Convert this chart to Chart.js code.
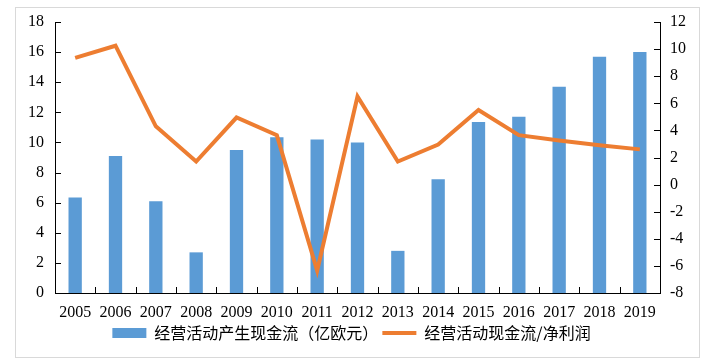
<!DOCTYPE html>
<html lang="zh">
<head>
  <meta charset="UTF-8">
  <title>经营活动现金流</title>
  <style>
    body { margin: 0; background: #fff; }
    canvas { display: block; }
  </style>
</head>
<body>
  <canvas id="grafico" width="703" height="362"></canvas>

  <script src="https://cdn.jsdelivr.net/npm/chart.js"></script>
  <script>
    // dados
    const anos = ['2005', '2006', '2007', '2008', '2009', '2010', '2011', '2012', '2013', '2014', '2015', '2016', '2017', '2018', '2019'];
    const fluxoCaixa = [6.35, 9.1, 6.1, 2.7, 9.5, 10.35, 10.2, 10.0, 2.8, 7.55, 11.35, 11.7, 13.7, 15.7, 16.0];
    const fluxoSobreLucro = [9.35, 10.25, 4.3, 1.7, 4.95, 3.65, -6.35, 6.5, 1.7, 2.95, 5.5, 3.65, 3.25, 2.9, 2.6];
    const nomeBarras = '经营活动产生现金流（亿欧元）';
    const nomeLinha = '经营活动现金流/净利润';

    const azul = '#5B9BD5';
    const laranja = '#ED7D31';

    // moldura cinza em volta
    const moldura = {
      id: 'moldura',
      beforeDraw(chart) {
        const c = chart.ctx;
        c.save();
        c.strokeStyle = '#d9d9d9';
        c.lineWidth = 1;
        c.strokeRect(15.5, 7.5, 684, 350);
        c.restore();
      }
    };

    // marcas dos eixos para dentro
    const marcas = {
      id: 'marcas',
      afterDraw(chart) {
        const c = chart.ctx;
        const area = chart.chartArea;
        c.save();
        c.strokeStyle = '#000';
        c.lineWidth = 1;
        c.beginPath();
        const y = chart.scales.y;
        y.ticks.forEach((t, i) => {
          const p = Math.round(y.getPixelForTick(i)) + 0.5;
          c.moveTo(area.left, p);
          c.lineTo(area.left + 6, p);
        });
        const y1 = chart.scales.y1;
        y1.ticks.forEach((t, i) => {
          const p = Math.round(y1.getPixelForTick(i)) + 0.5;
          c.moveTo(area.right, p);
          c.lineTo(area.right - 6, p);
        });
        const passo = (area.right - area.left) / anos.length;
        for (let i = 1; i < anos.length; i++) {
          const p = Math.round(area.left + passo * i) + 0.5;
          c.moveTo(p, area.bottom);
          c.lineTo(p, area.bottom - 6);
        }
        c.stroke();
        c.restore();
      }
    };

    const fonteNum = { family: 'Liberation Serif', size: 16 };

    const grafico = new Chart(document.getElementById('grafico'), {
      type: 'bar',
      data: {
        labels: anos,
        datasets: [
          {
            label: nomeBarras,
            data: fluxoCaixa,
            backgroundColor: azul,
            borderWidth: 0,
            yAxisID: 'y',
            categoryPercentage: 1,
            barPercentage: 0.33,
            pointStyle: 'rect',
            order: 2
          },
          {
            type: 'line',
            label: nomeLinha,
            data: fluxoSobreLucro,
            borderColor: laranja,
            backgroundColor: laranja,
            borderWidth: 4,
            pointRadius: 0,
            tension: 0,
            yAxisID: 'y1',
            pointStyle: 'line',
            order: 1
          }
        ]
      },
      options: {
        responsive: false,
        animation: false,
        devicePixelRatio: 1,
        layout: { padding: { top: 22, bottom: 11, left: 0, right: 0 } },
        plugins: {
          tooltip: { enabled: false },
          legend: {
            position: 'bottom',
            labels: {
              usePointStyle: true,
              pointStyleWidth: 34,
              boxHeight: 10,
              padding: 4,
              color: '#000',
              font: { family: 'Noto Sans CJK SC', size: 16 },
              sort: (a, b) => a.datasetIndex - b.datasetIndex
            }
          }
        },
        scales: {
          x: {
            grid: { display: false, drawTicks: false },
            border: { display: true, color: '#000', width: 1 },
            ticks: { color: '#000', font: fonteNum, padding: 10, maxRotation: 0 },
            afterFit: (s) => { s.height = 28; }
          },
          y: {
            position: 'left',
            min: 0,
            max: 18,
            grid: { display: false, drawTicks: false },
            border: { display: true, color: '#000', width: 1 },
            ticks: { stepSize: 2, color: '#000', font: fonteNum, padding: 11 },
            afterFit: (s) => { s.width = 55; }
          },
          y1: {
            position: 'right',
            min: -8,
            max: 12,
            grid: { display: false, drawTicks: false },
            border: { display: true, color: '#000', width: 1 },
            ticks: { stepSize: 2, color: '#000', font: fonteNum, padding: 10 },
            afterFit: (s) => { s.width = 43; }
          }
        }
      },
      plugins: [moldura, marcas]
    });
  </script>
</body>
</html>
